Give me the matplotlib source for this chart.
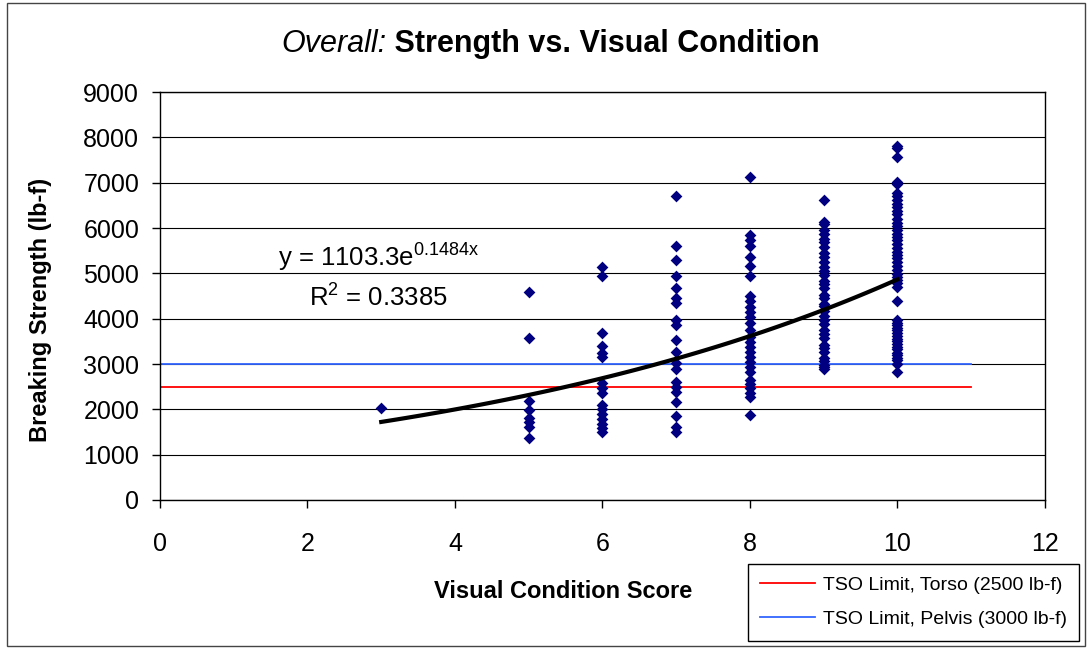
import numpy as np
import matplotlib
matplotlib.use('Agg')
import matplotlib.pyplot as plt
from matplotlib.patches import Rectangle
from matplotlib.lines import Line2D

plt.rcParams['font.family'] = ['Liberation Sans', 'DejaVu Sans']
plt.rcParams['mathtext.fontset'] = 'custom'
plt.rcParams['mathtext.rm'] = 'Liberation Sans'
plt.rcParams['mathtext.it'] = 'Liberation Sans:italic'

# Breaking strength (lb-f), grouped by visual condition score
strength_3 = [2030]
strength_5 = [4590, 3570, 2180, 1990, 1810, 1720, 1610, 1370]
strength_6 = [5150, 4940, 3680, 3400, 3240, 3150, 2570, 2460, 2370, 2100,
              2000, 1890, 1780, 1680, 1580, 1490]
strength_7 = [6710, 5600, 5290, 4940, 4670, 4450, 4340, 3970, 3860, 3540,
              3270, 3030, 2900, 2610, 2500, 2390, 2170, 1850, 1600, 1510]
strength_8 = [7120, 5850, 5740, 5600, 5370, 5160, 4940, 4490, 4380, 4260,
              4150, 4040, 3900, 3750, 3600, 3490, 3380, 3270, 3160, 3050,
              2940, 2830, 2650, 2560, 2460, 2350, 2270, 1880]
strength_9 = [6620, 6130, 6080, 5960, 5870, 5760, 5690, 5580, 5440, 5370,
              5260, 5130, 5060, 4970, 4840, 4760, 4680, 4530, 4460, 4330,
              4270, 4180, 4050, 3960, 3880, 3740, 3660, 3570, 3430, 3360,
              3270, 3140, 3060, 2980, 2930, 2880]
strength_10 = [7810, 7760, 7560, 7020, 6980, 6770, 6700, 6610, 6540, 6460,
               6370, 6300, 6190, 6120, 6040, 5960, 5870, 5800, 5730, 5640,
               5560, 5470, 5400, 5330, 5240, 5170, 5070, 4990, 4910, 4850,
               4780, 4700, 4380, 3970, 3910, 3850, 3790, 3740, 3690, 3620,
               3560, 3500, 3440, 3370, 3320, 3250, 3190, 3140, 3080, 3010, 2830]

scores = [3, 5, 6, 7, 8, 9, 10]
groups = [strength_3, strength_5, strength_6, strength_7, strength_8, strength_9, strength_10]

# Exponential trend line as shown on the chart
fit_a = 1103.3
fit_b = 0.1484
fit_r2 = 0.3385

torso_limit = 2500
pelvis_limit = 3000

fig = plt.figure(figsize=(10.89, 6.48), dpi=100)
ax = fig.add_axes([0.1469, 0.2284, 0.8127, 0.6296])

xs = []
ys = []
for s, g in zip(scores, groups):
    xs += [s] * len(g)
    ys += g

ax.plot([0, 11], [torso_limit, torso_limit], color='#ff0000', lw=1.3, zorder=2)
ax.plot([0, 11], [pelvis_limit, pelvis_limit], color='#3366ff', lw=1.3, zorder=2)
ax.scatter(xs, ys, marker='D', s=36, color='#000080', linewidths=0, zorder=3)

tx = np.linspace(3, 10, 100)
ax.plot(tx, fit_a * np.exp(fit_b * tx), color='black', lw=3, zorder=4)

ax.text(2.96, 5340, 'y = 1103.3e$^{\\mathregular{0.1484x}}$', fontsize=18.5,
        ha='center', va='center')
ax.text(2.96, 4460, f'R$^{{\\mathregular{{2}}}}$ = {fit_r2}', fontsize=18.5,
        ha='center', va='center')

ax.set_xlim(0, 12)
ax.set_ylim(0, 9000)
ax.set_xticks(range(0, 13, 2))
ax.set_yticks(range(0, 9001, 1000))
ax.tick_params(labelsize=18, direction='out', length=6, width=1)
ax.tick_params(axis='y', pad=9)
ax.tick_params(axis='x', pad=17)
ax.yaxis.grid(True, color='black', lw=0.8)
ax.set_axisbelow(True)
for sp in ax.spines.values():
    sp.set_linewidth(1)

ax.set_xlabel('Visual Condition Score', fontsize=17, fontweight='bold')
ax.xaxis.set_label_coords(0.456, -0.197)
ax.set_ylabel('Breaking Strength (lb-f)', fontsize=17, fontweight='bold')
ax.yaxis.set_label_coords(-0.122, 0.466)

fig.text(0.3545, 0.932, 'Overall:', fontsize=22, style='italic',
         ha='right', va='center')
fig.text(0.3545, 0.932, ' Strength vs. Visual Condition', fontsize=22,
         fontweight='bold', ha='left', va='center')

handles = [Line2D([], [], color='#ff0000', lw=1.3),
           Line2D([], [], color='#3366ff', lw=1.3)]
fig.legend(handles, ['TSO Limit, Torso (2500 lb-f)', 'TSO Limit, Pelvis (3000 lb-f)'],
           loc='lower right', bbox_to_anchor=(0.991, 0.011), fontsize=14,
           frameon=True, fancybox=False, edgecolor='black', framealpha=1,
           handlelength=2.8, handletextpad=0.4, borderpad=0.65, labelspacing=0.85,
           borderaxespad=0)

fig.patches.append(Rectangle((0.006, 0.003), 0.990, 0.992, transform=fig.transFigure,
                             fill=False, edgecolor='#444444', lw=1))

fig.savefig('out.png', dpi=100)
